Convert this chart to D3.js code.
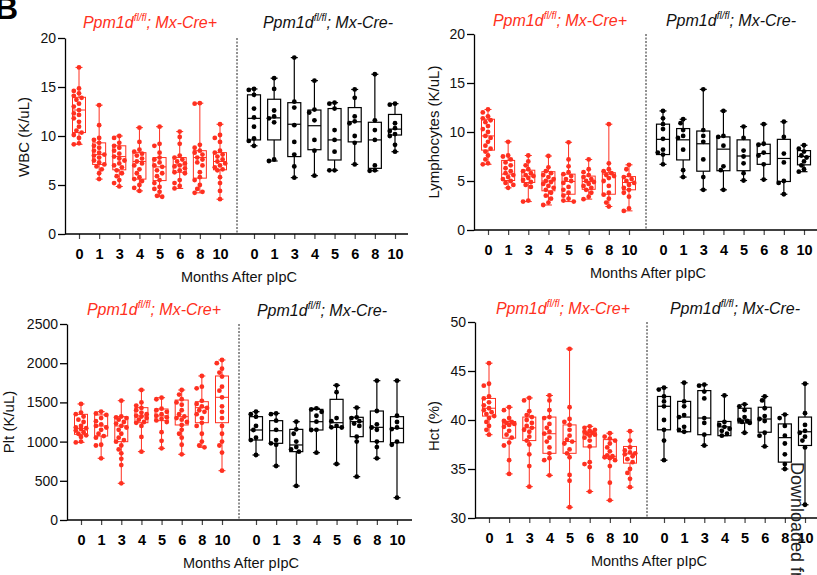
<!DOCTYPE html>
<html>
<head>
<meta charset="utf-8">
<script src="https://cdn.jsdelivr.net/npm/d3@7"></script>
<style>
  body { margin: 0; background: #fff; }
  svg { display: block; font-family: "Liberation Sans", Arial, Helvetica, sans-serif; }
</style>
</head>
<body>
<svg id="chart" width="817" height="575"></svg>
<script>
// Months after pIpC injection
const months = ["0", "1", "3", "4", "5", "6", "8", "10"];

// Axis tick values
const wbcTicks = [0, 5, 10, 15, 20];
const lymTicks = [0, 5, 10, 15, 20];
const pltTicks = [0, 500, 1000, 1500, 2000, 2500];
const hctTicks = [30, 35, 40, 45, 50];

// Individual mice per time point; box summaries are [min, q1, median, q3, max]
const wbcCre = [
  [17.0, 14.85, 14.6, 14.35, 14.1, 13.9, 13.7, 13.3, 13.0, 12.65, 12.3, 12.15, 11.8, 11.45, 10.95, 10.55, 10.35, 10.1, 9.8, 9.25, 9.15],
  [13.15, 11.1, 9.8, 9.6, 9.3, 9.0, 8.8, 8.5, 8.3, 8.1, 8.0, 7.8, 7.5, 7.3, 7.1, 6.9, 6.6, 6.2, 5.6],
  [10.0, 9.8, 9.3, 9.0, 8.8, 8.5, 8.2, 7.9, 7.7, 7.5, 7.2, 7.0, 6.8, 6.5, 6.2, 5.9, 5.5, 5.2, 4.85],
  [10.85, 9.4, 8.6, 8.4, 8.2, 8.0, 7.7, 7.4, 7.2, 7.0, 6.6, 6.2, 5.8, 5.6, 5.4, 5.0, 4.7, 4.4],
  [10.95, 9.2, 9.0, 8.3, 7.8, 7.6, 7.3, 7.0, 6.85, 6.5, 6.2, 5.9, 5.5, 5.2, 4.8, 4.6, 4.3, 3.9, 3.8],
  [10.45, 9.9, 9.2, 8.0, 7.8, 7.6, 7.4, 7.2, 7.0, 6.9, 6.7, 6.5, 6.3, 6.2, 5.5, 5.2, 4.9, 4.65],
  [13.35, 13.3, 9.1, 8.8, 8.5, 8.3, 8.1, 7.8, 7.6, 7.3, 7.0, 6.3, 5.8, 5.5, 5.0, 4.6, 4.3, 4.2],
  [11.2, 10.1, 9.8, 9.4, 8.5, 8.3, 8.1, 7.9, 7.6, 7.4, 7.2, 7.0, 6.8, 6.6, 6.5, 5.8, 5.2, 4.4, 3.55]
];
const wbcCreBox = [
  [9.15, 10.35, 12.65, 13.95, 17.0], [5.6, 7.1, 8.1, 9.3, 13.15], [4.85, 6.55, 7.9, 9.0, 10.0], [4.4, 5.6, 7.4, 8.3, 10.85],
  [3.8, 5.45, 6.85, 7.8, 10.95], [4.65, 6.3, 7.05, 7.8, 10.45], [4.2, 5.7, 7.8, 8.5, 13.35], [3.55, 6.55, 7.4, 8.3, 11.2]
];
const wbcCtl = [
  [14.8, 14.7, 14.2, 12.8, 11.9, 10.95, 9.75, 9.5, 9.0],
  [15.9, 14.8, 12.6, 12.0, 11.8, 11.4, 7.6, 7.45],
  [18.0, 13.5, 12.9, 11.1, 9.4, 8.1, 6.9, 5.75],
  [15.65, 12.7, 12.4, 11.6, 9.6, 8.5, 5.95],
  [13.4, 13.3, 12.8, 10.6, 9.6, 8.4, 6.5, 6.5],
  [14.75, 13.9, 12.0, 11.5, 11.3, 10.0, 9.3, 7.1],
  [16.3, 11.6, 10.6, 9.6, 7.0, 6.5, 6.45],
  [13.3, 13.2, 11.3, 10.8, 10.5, 10.2, 10.0, 9.1, 8.4]
];
const wbcCtlBox = [
  [9.0, 9.6, 11.8, 14.2, 14.8], [7.45, 9.6, 11.85, 13.75, 15.9], [5.75, 7.9, 11.2, 13.4, 18.0], [5.95, 8.6, 11.05, 12.65, 15.65],
  [6.5, 7.55, 9.6, 12.8, 13.4], [7.1, 9.4, 11.45, 12.9, 14.75], [6.45, 6.7, 9.6, 11.4, 16.3], [8.4, 10.1, 10.7, 12.2, 13.3]
];

const lymCre = [
  [12.3, 12.0, 11.6, 11.4, 11.2, 11.0, 10.6, 10.3, 10.0, 9.6, 9.4, 9.0, 8.6, 8.3, 8.0, 7.6, 7.2, 6.8, 6.7],
  [9.0, 7.6, 7.5, 7.2, 6.9, 6.6, 6.3, 6.0, 5.8, 5.6, 5.4, 5.2, 5.0, 4.8, 4.6, 4.3],
  [7.6, 7.0, 6.6, 6.2, 6.0, 5.8, 5.6, 5.5, 5.3, 5.1, 4.9, 4.6, 4.4, 3.0, 2.9],
  [7.55, 6.4, 6.0, 5.8, 5.6, 5.4, 5.2, 5.0, 4.9, 4.7, 4.5, 4.3, 4.1, 3.8, 3.5, 3.2, 2.8, 2.55],
  [8.95, 7.2, 6.5, 5.9, 5.7, 5.5, 5.2, 5.0, 4.8, 4.4, 4.1, 3.8, 3.5, 3.2, 3.0, 2.9],
  [7.2, 6.2, 5.9, 5.6, 5.4, 5.2, 5.0, 4.9, 4.7, 4.5, 4.3, 4.1, 3.8, 3.4, 3.15],
  [10.8, 6.8, 6.2, 6.0, 5.8, 5.6, 5.5, 5.3, 5.0, 4.5, 3.8, 3.6, 3.2, 2.8, 2.4],
  [6.65, 6.2, 5.6, 5.4, 5.2, 5.0, 4.8, 4.6, 4.3, 4.1, 3.8, 3.4, 2.2, 1.95]
];
const lymCreBox = [
  [6.7, 8.15, 9.6, 11.3, 12.3], [4.3, 5.05, 5.7, 7.1, 9.0], [2.9, 4.85, 5.5, 6.1, 7.6], [2.55, 4.0, 5.0, 5.95, 7.55],
  [2.9, 3.65, 4.95, 5.7, 8.95], [3.15, 4.15, 4.95, 5.5, 7.2], [2.4, 3.65, 5.7, 5.85, 10.8], [1.95, 4.1, 4.85, 5.45, 6.65]
];
const lymCtl = [
  [12.15, 11.4, 10.8, 10.3, 9.3, 8.2, 7.9, 7.7, 6.7],
  [11.3, 10.9, 10.2, 9.6, 9.4, 8.2, 6.1, 5.4],
  [14.35, 10.2, 9.6, 9.0, 7.2, 5.4, 4.1],
  [12.15, 9.6, 9.5, 8.6, 6.5, 6.1, 4.1],
  [10.55, 9.4, 8.1, 7.5, 6.8, 5.8, 5.05],
  [10.8, 8.8, 8.7, 7.9, 7.6, 6.7, 5.15],
  [11.05, 9.5, 7.8, 6.9, 5.0, 4.8, 3.65],
  [8.65, 8.3, 8.0, 7.6, 7.4, 7.0, 6.6, 6.2, 5.95]
];
const lymCtlBox = [
  [6.7, 7.7, 9.25, 10.8, 12.15], [5.4, 7.15, 9.2, 10.35, 11.3], [4.1, 6.0, 8.8, 10.1, 14.35], [4.1, 6.05, 8.25, 9.5, 12.15],
  [5.05, 6.05, 7.55, 9.2, 10.55], [5.15, 6.7, 7.8, 8.75, 10.8], [3.65, 4.95, 7.3, 9.25, 11.05], [5.95, 6.65, 7.5, 8.1, 8.65]
];

const pltCre = [
  [1480, 1370, 1350, 1320, 1280, 1250, 1200, 1180, 1170, 1160, 1140, 1120, 1100, 1080, 1060, 1000, 990],
  [1382, 1360, 1340, 1300, 1260, 1220, 1200, 1180, 1150, 1100, 1070, 1050, 960, 950, 787],
  [1522, 1320, 1310, 1300, 1280, 1250, 1230, 1200, 1180, 1150, 1100, 1050, 1020, 999, 950, 900, 850, 780, 700, 468],
  [1658, 1500, 1460, 1430, 1400, 1370, 1350, 1330, 1320, 1300, 1280, 1250, 1240, 1200, 1060, 872],
  [1560, 1540, 1420, 1400, 1380, 1350, 1330, 1310, 1290, 1270, 1250, 1120, 1010, 914],
  [1658, 1600, 1540, 1500, 1470, 1400, 1350, 1320, 1300, 1280, 1250, 1212, 1150, 1100, 1050, 960, 838],
  [1837, 1700, 1680, 1520, 1480, 1450, 1430, 1400, 1380, 1350, 1300, 1240, 1200, 1100, 1000, 950, 927],
  [2041, 2000, 1930, 1880, 1830, 1700, 1650, 1565, 1450, 1380, 1300, 1200, 1100, 1000, 950, 860, 629]
];
const pltCreBox = [
  [990, 1093, 1169, 1348, 1480], [787, 1071, 1199, 1340, 1382], [468, 999, 1199, 1318, 1522], [872, 1241, 1327, 1433, 1658],
  [914, 1267, 1327, 1416, 1560], [838, 1212, 1318, 1530, 1658], [927, 1241, 1433, 1509, 1837], [629, 1241, 1565, 1837, 2041]
];
const pltCtl = [
  [1382, 1350, 1318, 1200, 1148, 1050, 1020, 829],
  [1360, 1350, 1267, 1150, 1020, 978, 960, 689],
  [1254, 1156, 1100, 1000, 930, 900, 872, 434],
  [1424, 1411, 1380, 1330, 1254, 1150, 1148, 859],
  [1718, 1630, 1300, 1260, 1200, 1182, 1180, 714],
  [1433, 1310, 1300, 1260, 1230, 1200, 1063, 1000, 553],
  [1777, 1390, 1220, 1180, 1150, 1000, 930, 787],
  [1777, 1330, 1250, 1180, 1160, 1000, 960, 285]
];
const pltCtlBox = [
  [829, 1020, 1148, 1318, 1382], [689, 978, 1139, 1267, 1360], [434, 872, 957, 1156, 1254], [859, 1148, 1254, 1411, 1424],
  [714, 1182, 1241, 1539, 1718], [553, 1063, 1254, 1310, 1433], [787, 999, 1182, 1390, 1777], [285, 986, 1169, 1318, 1777]
];

const hctCre = [
  [45.8, 43.7, 43.5, 42.4, 42.2, 41.8, 41.5, 41.2, 41.0, 40.8, 40.6, 40.4, 40.2, 39.8, 39.4, 39.0, 38.5],
  [41.3, 41.0, 40.2, 39.9, 39.8, 39.7, 39.6, 39.5, 39.3, 38.9, 38.5, 38.2, 37.7, 37.4, 35.9, 34.5],
  [42.25, 42.0, 40.9, 40.5, 40.3, 40.0, 39.7, 39.4, 39.2, 39.0, 38.8, 38.3, 37.9, 37.5, 36.5, 35.3, 33.2],
  [42.5, 42.0, 41.0, 40.3, 40.2, 39.6, 39.2, 38.8, 38.6, 38.2, 37.8, 37.2, 36.6, 36.1, 35.9, 34.35],
  [47.25, 41.3, 40.1, 39.8, 39.5, 39.0, 38.4, 38.0, 37.8, 37.6, 37.0, 36.6, 36.2, 34.4, 33.8, 31.1],
  [39.35, 39.2, 39.0, 38.9, 38.8, 38.7, 38.6, 38.5, 38.4, 38.2, 37.9, 37.3, 35.7, 35.5, 35.2, 32.7],
  [38.65, 38.3, 38.1, 37.9, 37.6, 37.2, 36.8, 36.4, 36.3, 36.2, 36.1, 35.9, 35.3, 33.6, 31.8],
  [38.85, 37.9, 37.2, 36.9, 36.7, 36.6, 36.5, 36.3, 36.0, 35.7, 35.0, 34.6, 34.0, 33.15]
];
const hctCreBox = [
  [38.5, 40.4, 41.2, 42.2, 45.8], [34.5, 38.15, 39.6, 39.85, 41.3], [33.2, 37.9, 39.2, 40.3, 42.25], [34.35, 36.6, 38.6, 40.3, 42.5],
  [31.1, 36.6, 37.8, 39.5, 47.25], [32.7, 37.25, 38.55, 38.75, 39.35], [31.8, 36.1, 36.3, 38.0, 38.65], [33.15, 35.6, 36.55, 37.3, 38.85]
];
const hctCtl = [
  [43.3, 43.1, 42.4, 41.9, 41.4, 40.0, 39.0, 37.9, 35.9],
  [43.8, 41.9, 41.4, 40.5, 40.3, 39.3, 39.0, 38.8],
  [43.6, 43.5, 42.9, 42.2, 40.2, 39.7, 38.5, 37.4],
  [42.5, 39.8, 39.5, 39.3, 39.1, 38.9, 38.6, 38.4],
  [41.6, 41.4, 41.0, 40.3, 40.0, 39.9, 39.8, 39.7, 38.7],
  [42.4, 42.0, 41.2, 40.4, 40.1, 39.9, 38.7, 38.4, 37.3],
  [40.55, 40.2, 39.4, 38.4, 37.6, 36.5, 35.5, 35.0],
  [43.7, 40.7, 39.5, 38.9, 38.7, 38.3, 37.9, 37.2, 31.35]
];
const hctCtlBox = [
  [35.9, 39.0, 41.4, 42.4, 43.3], [38.8, 38.8, 40.3, 41.9, 43.8], [37.4, 38.5, 40.2, 43.0, 43.6], [38.4, 38.4, 39.3, 39.85, 42.5],
  [38.7, 39.7, 40.0, 41.2, 41.6], [37.3, 38.75, 40.1, 41.3, 42.4], [35.0, 35.7, 38.2, 39.6, 40.55], [31.35, 37.4, 38.8, 40.3, 43.7]
];

const RED = "#ff3020";
const BLACK = "#000";
const svg = d3.select("#chart");

// Panel frames
const panels = [
  { label: "WBC (K/uL)", domain: [0, 20], ticks: wbcTicks, axisX: 65, top: 38, bottom: 234, right: 408,
    labelX: 29, labelY: 137, creTitle: [150, 27.5], ctlTitle: [328, 27.5], cre: wbcCre, creBox: wbcCreBox, ctl: wbcCtl, ctlBox: wbcCtlBox },
  { label: "Lymphocytes (K/uL)", domain: [0, 20], ticks: lymTicks, axisX: 474, top: 34, bottom: 230, right: 817,
    labelX: 439, labelY: 132, creTitle: [560, 25.5], ctlTitle: [731, 25.5], cre: lymCre, creBox: lymCreBox, ctl: lymCtl, ctlBox: lymCtlBox },
  { label: "Plt (K/uL)", domain: [0, 2500], ticks: pltTicks, axisX: 67, top: 324, bottom: 520, right: 412,
    labelX: 14, labelY: 422, creTitle: [154, 315], ctlTitle: [322, 316], cre: pltCre, creBox: pltCreBox, ctl: pltCtl, ctlBox: pltCtlBox },
  { label: "Hct (%)", domain: [30, 50], ticks: hctTicks, axisX: 475, top: 322, bottom: 518, right: 817,
    labelX: 439, labelY: 426, creTitle: [563, 314], ctlTitle: [735, 314], cre: hctCre, creBox: hctCreBox, ctl: hctCtl, ctlBox: hctCtlBox }
];

// Deterministic beeswarm offsets so dots with close values spread sideways
function swarm(vals, y, r, maxOff) {
  const pts = vals.map(v => ({ v, py: y(v) })).sort((a, b) => a.py - b.py);
  const step = 2.6;
  const cands = [0];
  for (let k = 1; k * step <= maxOff; k++) cands.push(-k * step, k * step);
  const placed = [];
  pts.forEach(p => {
    let best = 0, bestD = -1;
    for (const off of cands) {
      let d = Infinity;
      for (const q of placed) d = Math.min(d, Math.hypot(q.dx - off, q.py - p.py));
      if (d >= 2 * r * 0.95) { best = off; break; }
      if (d > bestD) { bestD = d; best = off; }
    }
    p.dx = best;
    placed.push(p);
  });
  return pts;
}

function groupTitle(g, x, y, suffix, color) {
  const t = g.append("text").attr("x", x).attr("y", y).attr("text-anchor", "middle")
    .attr("font-size", 16).attr("font-style", "italic").attr("fill", color);
  t.append("tspan").text("Ppm1d");
  t.append("tspan").attr("font-size", 10).attr("dy", -7).text("fl/fl");
  t.append("tspan").attr("dy", 7).text("; Mx-Cre" + suffix);
}

function drawGroup(g, x, y, pts, boxes, color, lw) {
  const hw = 6.5, cap = 3.5;
  months.forEach((m, i) => {
    const cx = x(m);
    const [mn, q1, md, q3, mx] = boxes[i];
    const gg = g.append("g");
    gg.append("line").attr("x1", cx).attr("x2", cx).attr("y1", y(mx)).attr("y2", y(q3));
    gg.append("line").attr("x1", cx).attr("x2", cx).attr("y1", y(q1)).attr("y2", y(mn));
    gg.append("line").attr("x1", cx - cap).attr("x2", cx + cap).attr("y1", y(mx)).attr("y2", y(mx));
    gg.append("line").attr("x1", cx - cap).attr("x2", cx + cap).attr("y1", y(mn)).attr("y2", y(mn));
    gg.append("rect").attr("x", cx - hw).attr("width", 2 * hw).attr("y", y(q3)).attr("height", y(q1) - y(q3))
      .attr("fill", "none");
    gg.append("line").attr("x1", cx - hw).attr("x2", cx + hw).attr("y1", y(md)).attr("y2", y(md));
    gg.selectAll("line, rect").attr("stroke", color).attr("stroke-width", lw);
    const sw = swarm(pts[i], y, 2.4, 6);
    gg.selectAll("circle").data(sw).join("circle")
      .attr("cx", d => cx + d.dx).attr("cy", d => d.py).attr("r", 2.4).attr("fill", color);
  });
}

panels.forEach(p => {
  const g = svg.append("g");
  const y = d3.scaleLinear().domain(p.domain).range([p.bottom, p.top]);
  const xCre = d3.scalePoint().domain(months).range([p.axisX + 14, p.axisX + 155]);
  const xCtl = d3.scalePoint().domain(months).range([p.axisX + 189, p.axisX + 330]);

  // y axis
  const ya = g.append("g").attr("transform", `translate(${p.axisX},0)`)
    .call(d3.axisLeft(y).tickValues(p.ticks).tickFormat(d3.format("d"))
      .tickSize(7).tickPadding(2).tickSizeOuter(0));
  ya.select(".domain").attr("stroke", BLACK).attr("stroke-width", 1.3);
  ya.selectAll(".tick line").attr("stroke", BLACK).attr("stroke-width", 1.3);
  ya.selectAll(".tick text").attr("font-size", 14).attr("font-family", null).attr("fill", "#111");

  // x axes, one per genotype, sharing a baseline
  [xCre, xCtl].forEach(xs => {
    const xa = g.append("g").attr("transform", `translate(0,${p.bottom})`)
      .call(d3.axisBottom(xs).tickSize(5).tickPadding(10));
    xa.select(".domain").remove();
    xa.selectAll(".tick line").attr("stroke", "#444").attr("stroke-width", 1.2);
    xa.selectAll(".tick text").attr("font-size", 14.5).attr("font-weight", "bold")
      .attr("font-family", null).attr("fill", "#000");
  });
  g.append("line").attr("x1", p.axisX).attr("x2", p.right).attr("y1", p.bottom).attr("y2", p.bottom)
    .attr("stroke", BLACK).attr("stroke-width", 1.3);

  // dotted separator between genotypes
  const sepX = (xCre("10") + xCtl("0")) / 2;
  g.append("line").attr("x1", sepX).attr("x2", sepX).attr("y1", p.top).attr("y2", p.bottom)
    .attr("stroke", "#222").attr("stroke-width", 1).attr("stroke-dasharray", "2,1.5");

  // axis titles
  g.append("text").attr("transform", `translate(${p.labelX},${p.labelY}) rotate(-90)`)
    .attr("text-anchor", "middle").attr("font-size", 15).attr("fill", "#111").text(p.label);
  g.append("text").attr("x", sepX + 2).attr("y", p.bottom + 47.5).attr("text-anchor", "middle")
    .attr("font-size", 14.5).attr("fill", "#111").text("Months After pIpC");

  groupTitle(g, p.creTitle[0], p.creTitle[1], "+", RED);
  groupTitle(g, p.ctlTitle[0], p.ctlTitle[1], "-", "#111");

  drawGroup(g, xCre, y, p.cre, p.creBox, RED, 1);
  drawGroup(g, xCtl, y, p.ctl, p.ctlBox, BLACK, 1.2);
});

// panel letter, partly outside the frame at the corner
svg.append("text").attr("x", -5).attr("y", 19).attr("font-size", 32).attr("font-weight", "bold").text("B");

// source watermark running down the right edge
svg.append("text").attr("transform", "translate(791,462) rotate(90)")
  .attr("font-size", 18).attr("fill", "#222").text("Downloaded fro");
</script>
</body>
</html>
